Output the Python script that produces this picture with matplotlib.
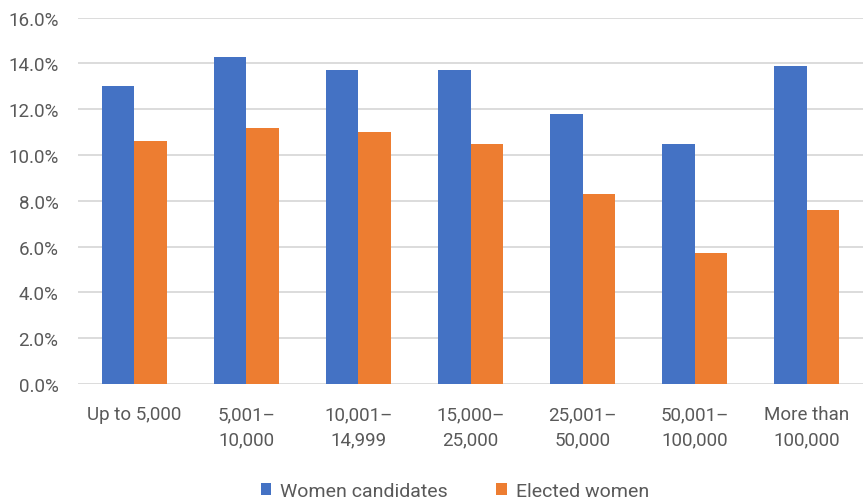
import numpy as np
import matplotlib
matplotlib.use("Agg")
from matplotlib import pyplot as plt
from matplotlib.ticker import FuncFormatter

# data (percent)
categories = ["Up to 5,000", "5,001–\n10,000", "10,001–\n14,999", "15,000–\n25,000",
              "25,001–\n50,000", "50,001–\n100,000", "More than\n100,000"]
women_candidates = [13.0, 14.3, 13.7, 13.7, 11.8, 10.5, 13.9]
elected_women = [10.6, 11.2, 11.0, 10.5, 8.3, 5.7, 7.6]

blue = "#4472C4"
orange = "#ED7D31"
text_col = "#595959"

plt.rcParams["font.family"] = ["Roboto", "DejaVu Sans"]

fig = plt.figure(figsize=(8.63, 5.02), dpi=100)
ax = fig.add_axes([0.0904, 0.233, 0.9096, 0.730])

x = np.arange(len(categories))
w = 0.29
ax.bar(x - w / 2, women_candidates, w, color=blue, label="Women candidates", zorder=3)
ax.bar(x + w / 2, elected_women, w, color=orange, label="Elected women", zorder=3)

ax.set_xlim(-0.5, len(categories) - 0.5)
ax.set_ylim(0, 16)
ax.set_yticks(np.arange(0, 16.1, 2))
ax.yaxis.set_major_formatter(FuncFormatter(lambda v, p: f"{v:.1f}%"))
ax.set_xticks(x)
ax.set_xticklabels(categories, linespacing=1.55)

ax.grid(axis="y", color="#D9D9D9", linewidth=1.3, zorder=0)
for s in ax.spines.values():
    s.set_visible(False)
ax.tick_params(axis="both", length=0, colors=text_col, labelsize=13.5)
ax.tick_params(axis="y", pad=14)
ax.tick_params(axis="x", pad=15)

fig.legend(loc="lower center", ncol=2, frameon=False, fontsize=14,
           handlelength=0.55, handleheight=0.55, handletextpad=0.45, columnspacing=2.5,
           bbox_to_anchor=(0.527, -0.033), labelcolor=text_col)

plt.savefig("out.png", dpi=100)
